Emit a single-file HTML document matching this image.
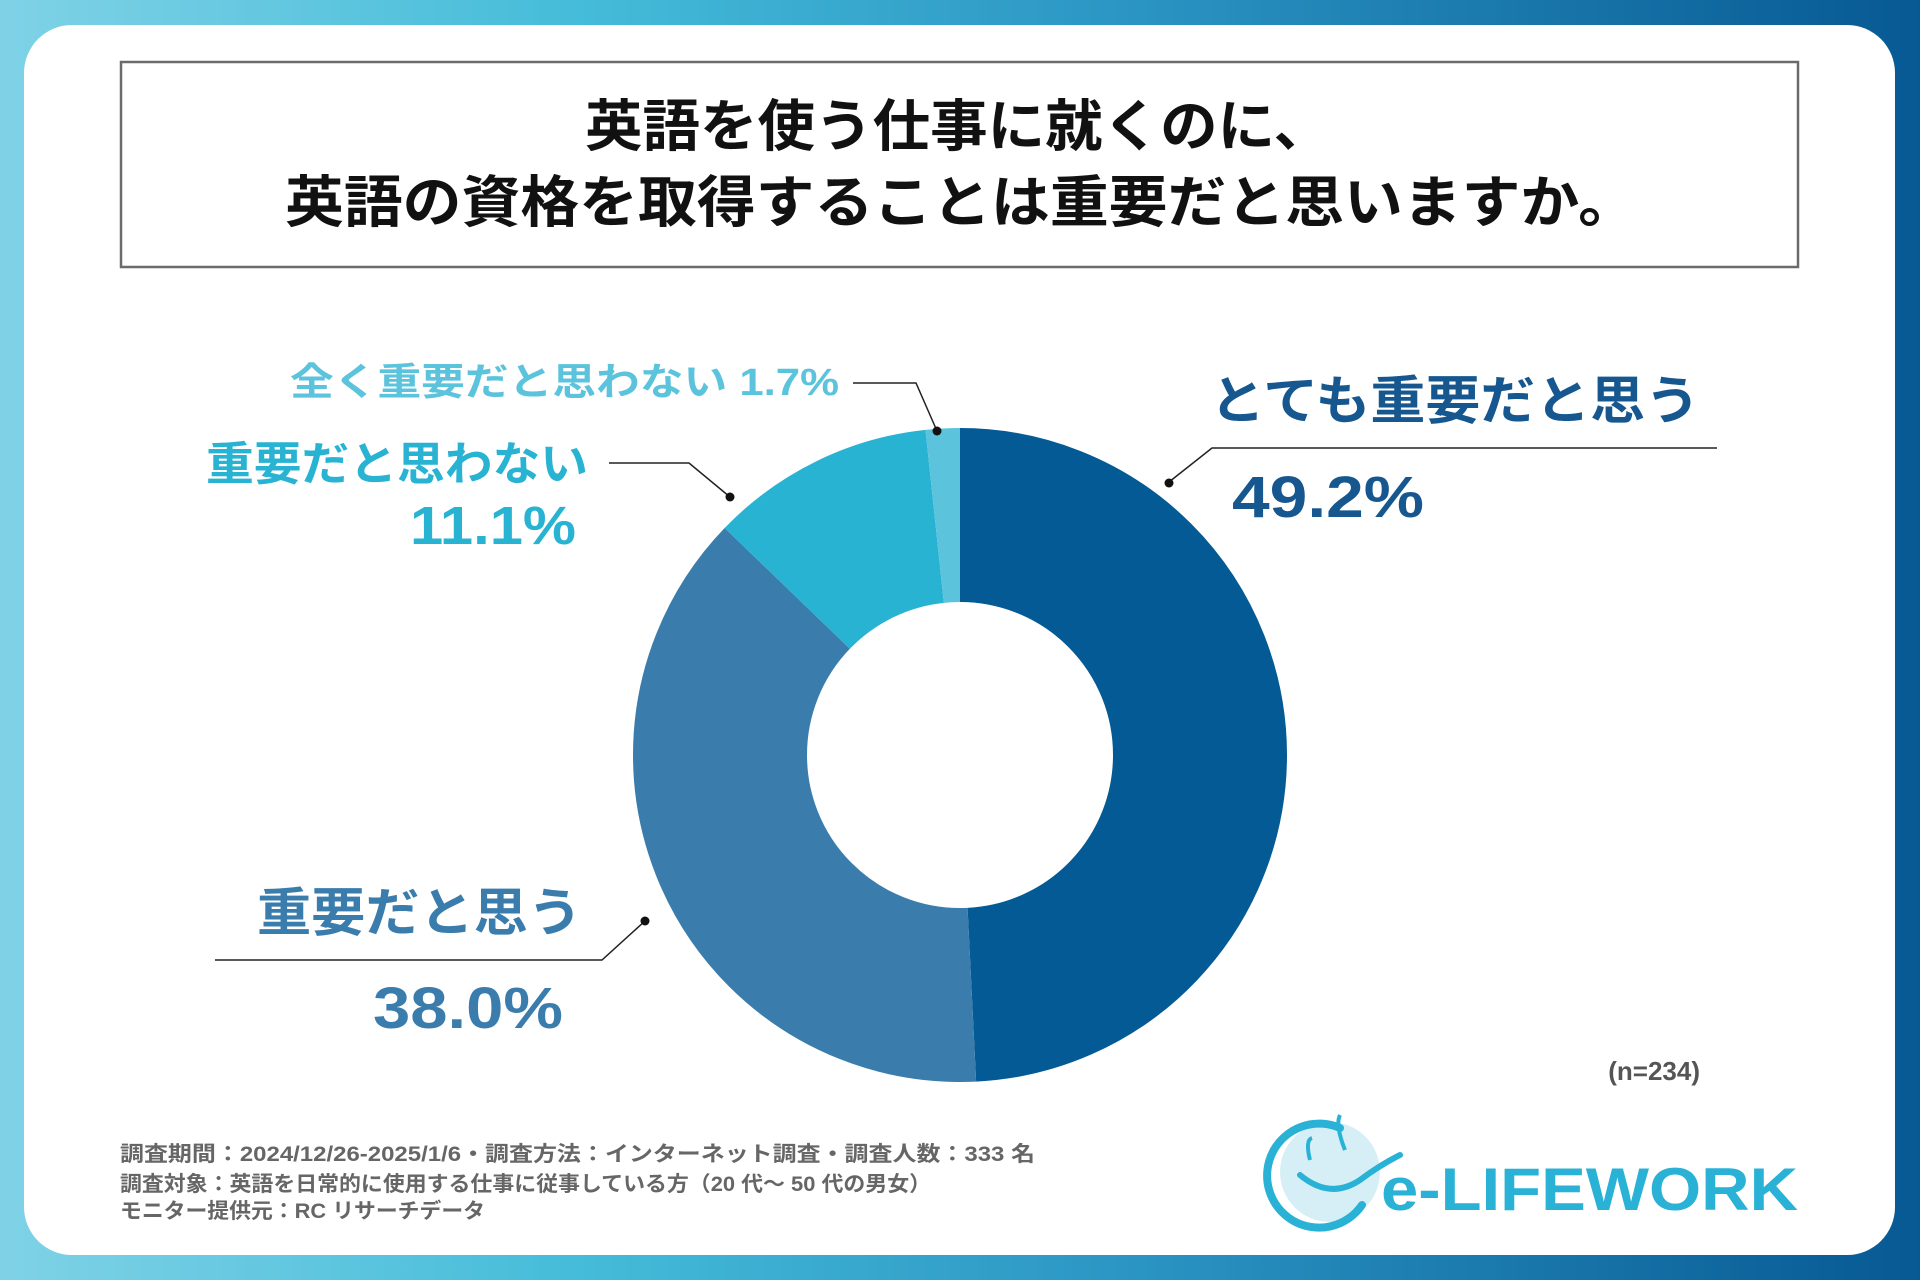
<!DOCTYPE html>
<html><head><meta charset="utf-8"><style>
html,body{margin:0;padding:0;}
body{width:1920px;height:1280px;overflow:hidden;}
svg{display:block;}
text{font-family:"Liberation Sans","Noto Sans CJK JP",sans-serif;font-weight:bold;}
</style></head><body>
<svg width="1920" height="1280" viewBox="0 0 1920 1280" xmlns="http://www.w3.org/2000/svg">
<defs>
<linearGradient id="bg" x1="0" y1="0" x2="1" y2="0">
<stop offset="0" stop-color="#7fd2e6"/>
<stop offset="0.3" stop-color="#45bcd9"/>
<stop offset="0.6" stop-color="#2a93c2"/>
<stop offset="1" stop-color="#075993"/>
</linearGradient>
</defs>
<rect width="1920" height="1280" fill="url(#bg)"/>
<rect x="24" y="25" width="1871" height="1230" rx="48" fill="#ffffff"/>
<rect x="121" y="62" width="1677" height="205" fill="none" stroke="#6b6b6b" stroke-width="2.5"/>
<text x="958" y="146" font-size="56" fill="#111" text-anchor="middle" textLength="746" lengthAdjust="spacingAndGlyphs">英語を使う仕事に就くのに、</text>
<text x="961" y="222" font-size="56" fill="#111" text-anchor="middle" textLength="1352" lengthAdjust="spacingAndGlyphs">英語の資格を取得することは重要だと思いますか。</text>

<g transform="rotate(-90 960 755)">
<circle cx="960" cy="755" r="240" fill="none" stroke="#035a94" stroke-width="174" stroke-dasharray="741.9 766.06" stroke-dashoffset="0"/>
<circle cx="960" cy="755" r="240" fill="none" stroke="#3a7dac" stroke-width="174" stroke-dasharray="573.0 934.96" stroke-dashoffset="-741.9"/>
<circle cx="960" cy="755" r="240" fill="none" stroke="#28b3d3" stroke-width="174" stroke-dasharray="167.4 1340.56" stroke-dashoffset="-1314.9"/>
<circle cx="960" cy="755" r="240" fill="none" stroke="#5cc3dd" stroke-width="174" stroke-dasharray="25.66 1482.3" stroke-dashoffset="-1482.3"/>
</g>

<g stroke="#222" stroke-width="1.5" fill="none">
<polyline points="1717,448 1212,448 1169,482"/>
<polyline points="215,960 602,960 645,921"/>
<polyline points="609,463 689,463 730,497"/>
<polyline points="853,383 916,383 937,431"/>
</g>
<g fill="#111">
<circle cx="1169" cy="483" r="4.5"/>
<circle cx="645" cy="921" r="4.5"/>
<circle cx="730" cy="497" r="4.5"/>
<circle cx="937" cy="431" r="4.5"/>
</g>

<text x="1210" y="419" font-size="52" fill="#17578f" textLength="490" lengthAdjust="spacingAndGlyphs">とても重要だと思う</text>
<text x="1232" y="517" font-size="58" fill="#17578f" textLength="192" lengthAdjust="spacingAndGlyphs">49.2%</text>
<text x="257" y="931" font-size="52" fill="#3a7dac" textLength="325" lengthAdjust="spacingAndGlyphs">重要だと思う</text>
<text x="373" y="1028" font-size="58" fill="#3a7dac" textLength="190" lengthAdjust="spacingAndGlyphs">38.0%</text>
<text x="206" y="480" font-size="46" fill="#28b3d3" textLength="382" lengthAdjust="spacingAndGlyphs">重要だと思わない</text>
<text x="410" y="544" font-size="54" fill="#28b3d3" textLength="166" lengthAdjust="spacingAndGlyphs">11.1%</text>
<text x="290" y="395" font-size="38" fill="#5cc3dd" textLength="549" lengthAdjust="spacingAndGlyphs">全く重要だと思わない 1.7%</text>

<text x="1700" y="1080" font-size="26" fill="#555" text-anchor="end">(n=234)</text>

<text x="120" y="1161" font-size="21" fill="#666" textLength="915" lengthAdjust="spacingAndGlyphs">調査期間：2024/12/26-2025/1/6・調査方法：インターネット調査・調査人数：333 名</text>
<text x="120" y="1191" font-size="21" fill="#666" textLength="811" lengthAdjust="spacingAndGlyphs">調査対象：英語を日常的に使用する仕事に従事している方（20 代～ 50 代の男女）</text>
<text x="120" y="1218" font-size="21" fill="#666" textLength="365" lengthAdjust="spacingAndGlyphs">モニター提供元：RC リサーチデータ</text>

<circle cx="1330" cy="1172" r="50" fill="#d6eff7"/>
<path d="M1340,1128 A52,52 0 1 0 1362,1205" fill="none" stroke="#29b2d6" stroke-width="8" stroke-linecap="round"/>
<path d="M1300,1175 Q1330,1200 1360,1180 Q1380,1165 1400,1155" fill="none" stroke="#29b2d6" stroke-width="6" stroke-linecap="round"/>
<path d="M1310,1160 Q1305,1140 1312,1138" fill="none" stroke="#29b2d6" stroke-width="4"/>
<path d="M1345,1150 Q1335,1125 1340,1115" fill="none" stroke="#29b2d6" stroke-width="4"/>
<text x="1381" y="1210" font-size="60" fill="#29b2d6" textLength="417" lengthAdjust="spacingAndGlyphs">e-LIFEWORK</text>
</svg>
</body></html>
